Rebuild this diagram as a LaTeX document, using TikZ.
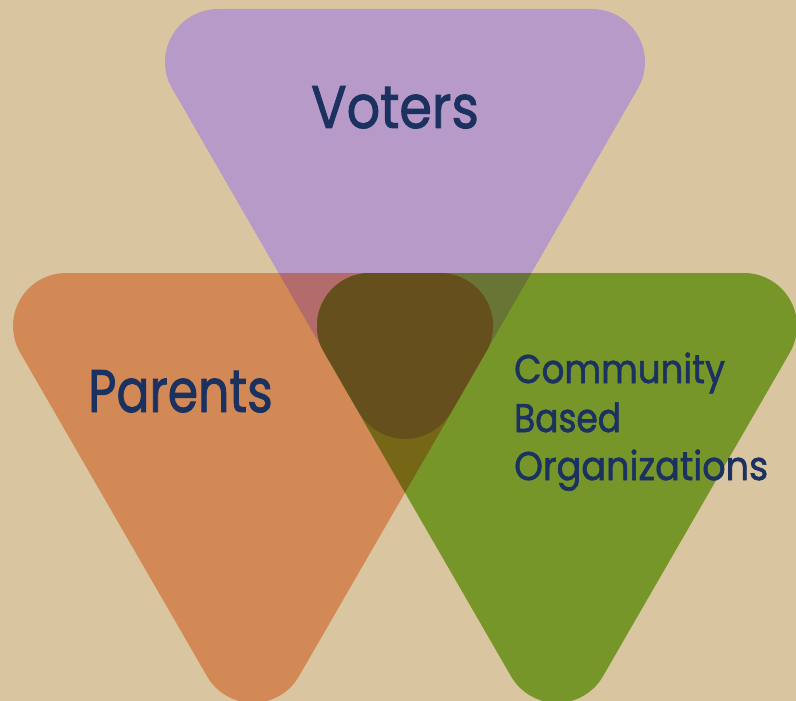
\documentclass[tikz,border=0pt]{standalone}
\usepackage{fontspec}
\newfontfamily\labelfont{Poppins}[FakeBold=1.6]
\definecolor{bg}{HTML}{D9C6A0}
\definecolor{votersfill}{HTML}{B89AC8}
\definecolor{parentsfill}{HTML}{D38956}
\definecolor{cbofill}{HTML}{76962A}
\definecolor{vpfill}{HTML}{B46B6C}
\definecolor{vcfill}{HTML}{687534}
\definecolor{pcfill}{HTML}{756716}
\definecolor{allfill}{HTML}{644F1D}
\definecolor{ink}{HTML}{1B3160}
\begin{document}
\begin{tikzpicture}[x=1pt,y=1pt,
  % inverted equilateral triangle (side 558pt) with circular corners of radius 53pt;
  % arguments: left x and top y of the sharp triangle (y measured downwards)
  rtri/.style 2 args={insert path={(#1+92,-#2) -- ++(374pt,0)
      arc[start angle=90,end angle=-30,radius=53pt] -- ++(240:374pt)
      arc[start angle=-30,end angle=-150,radius=53pt] -- ++(120:374pt)
      arc[start angle=210,end angle=90,radius=53pt] -- cycle}},
  triV/.style={rtri={126}{9}},
  triP/.style={rtri={-26}{273}},
  triC/.style={rtri={278}{273}},
  lbl/.style={text=ink, inner sep=0pt, anchor=base west}]
\fill[bg] (0,0) rectangle (796,-701);
\useasboundingbox (0,0) rectangle (796,-701);
% the three groups
\fill[votersfill, triV];
\fill[parentsfill, triP];
\fill[cbofill, triC];
% pairwise overlaps and the shared core
\begin{scope}
  \clip[triV];
  \fill[vpfill, triP];
  \fill[vcfill, triC];
\end{scope}
\begin{scope}
  \clip[triP];
  \fill[pcfill, triC];
  \clip[triV];
  \fill[allfill, triC];
\end{scope}
% labels
\node[lbl, xscale=0.875, font=\labelfont\fontsize{60}{60}\selectfont] (voters) at (311,-128) {Voters};
\node[lbl, xscale=0.815, font=\labelfont\fontsize{60}{60}\selectfont] (parents) at (88,-412) {Parents};
\node[lbl, xscale=0.89, font=\labelfont\fontsize{40}{40}\selectfont] (community) at (514,-383) {Community};
\node[lbl, xscale=0.86, font=\labelfont\fontsize{40}{40}\selectfont] (based) at (514,-432) {Based};
\node[lbl, xscale=0.915, font=\labelfont\fontsize{40}{40}\selectfont] (orgs) at (514,-480) {Organizations};
\end{tikzpicture}
\end{document}
